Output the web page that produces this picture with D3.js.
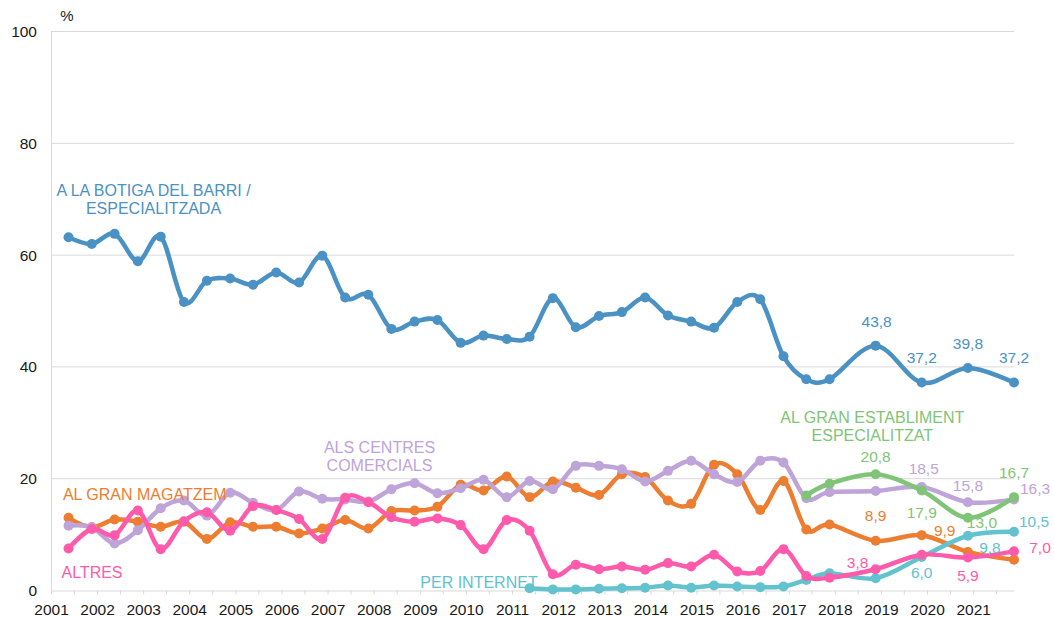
<!DOCTYPE html>
<html>
<head>
<meta charset="utf-8">
<script src="https://cdn.jsdelivr.net/npm/d3@7"></script>
<style>
  html, body { margin: 0; padding: 0; background: #ffffff; }
  svg { display: block; font-family: "Liberation Sans", Arial, sans-serif; }
</style>
</head>
<body>
<svg id="chart" width="1054" height="617"></svg>
<script>
// ---- DATA ----
const surveys = [
  "2001-05","2001-11","2002-05","2002-11","2003-05","2003-11","2004-05","2004-11",
  "2005-05","2005-11","2006-05","2006-11","2007-05","2007-11","2008-05","2008-11",
  "2009-05","2009-11","2010-05","2010-11","2011-05","2011-11","2012-05","2012-11",
  "2013-05","2013-11","2014-05","2014-11","2015-05","2015-11","2016-05","2016-11",
  "2017-05","2017-11","2018-11","2019-11","2020-11","2021-11"
];
const yearLabels = ["2001","2002","2003","2004","2005","2006","2007","2008","2009","2010","2011",
  "2012","2013","2014","2015","2016","2017","2018","2019","2020","2021"];
const yTicks = [0, 20, 40, 60, 80, 100];

const botigaBarri = [63.2,62.0,63.8,58.9,63.3,51.6,55.4,55.8,54.7,56.9,
  55.1,59.9,52.4,52.9,46.8,48.1,48.4,44.3,45.6,45.0,
  45.4,52.3,47.1,49.1,49.8,52.4,49.2,48.1,47.0,51.6,
  52.1,41.9,37.8,37.8,43.8,37.2,39.8,37.2];
const granMagatzem = [13.0,11.3,12.7,12.3,11.4,12.3,9.2,12.2,11.4,11.4,
  10.2,11.1,12.6,11.1,14.2,14.3,15.0,18.9,17.9,20.4,
  16.7,19.5,18.4,17.1,20.8,20.3,16.1,15.5,22.5,20.8,
  14.4,19.6,10.9,11.8,8.9,9.9,6.9,5.5];
const centresComercials = [11.6,11.3,8.4,10.8,14.7,16.1,13.4,17.5,15.7,14.4,
  17.7,16.4,16.3,15.9,18.1,19.2,17.4,18.3,19.8,16.7,
  19.6,18.1,22.3,22.3,21.7,19.5,21.4,23.2,20.8,19.4,
  23.2,22.9,16.5,17.6,17.8,18.5,15.8,16.3];
const perInternet = [null,null,null,null,null,null,null,null,null,null,
  null,null,null,null,null,null,null,null,null,null,
  0.4,0.2,0.2,0.3,0.4,0.5,0.9,0.5,0.9,0.7,
  0.6,0.7,1.9,3.1,2.2,6.0,9.8,10.5];
const altres = [7.5,11.0,9.9,14.3,7.4,12.4,14.0,10.7,15.1,14.4,
  12.8,9.2,16.6,15.8,13.1,12.3,12.9,11.7,7.4,12.6,
  10.7,2.9,4.6,3.8,4.3,3.7,4.9,4.3,6.4,3.4,
  3.5,7.4,2.6,2.3,3.8,6.4,5.9,7.0];
const granEstabliment = [null,null,null,null,null,null,null,null,null,null,
  null,null,null,null,null,null,null,null,null,null,
  null,null,null,null,null,null,null,null,null,null,
  null,null,17.0,19.1,20.8,17.9,13.0,16.7];

// ---- STYLE / LAYOUT ----
const colors = {
  botiga: "#4a91c4", magatzem: "#ed7d31", centres: "#bea4d8",
  internet: "#62c2cd", altres: "#ff5aab", establiment: "#7fc477"
};
const series = [
  { key: "botiga", values: botigaBarri,
    nameLines: ["A LA BOTIGA DEL BARRI /", "ESPECIALITZADA"], nameAt: [153.5, 196],
    labels: [[34,1,-24],[35,0,-25],[36,0,-24],[37,0,-25]] },
  { key: "magatzem", values: granMagatzem,
    nameLines: ["AL GRAN MAGATZEM"], nameAt: [144.7, 500],
    labels: [[34,0,-25],[35,23,-5]] },
  { key: "centres", values: centresComercials,
    nameLines: ["ALS CENTRES", "COMERCIALS"], nameAt: [379.5, 453],
    labels: [[35,2,-19],[36,0,-17],[37,21,-11]] },
  { key: "internet", values: perInternet,
    nameLines: ["PER INTERNET"], nameAt: [479, 587.5],
    labels: [[35,0,16],[36,22,12],[37,20,-10]] },
  { key: "altres", values: altres,
    nameLines: ["ALTRES"], nameAt: [92, 577.5],
    labels: [[34,-18,-7],[36,0,18],[37,26,-4]] },
  { key: "establiment", values: granEstabliment,
    nameLines: ["AL GRAN ESTABLIMENT", "ESPECIALITZAT"], nameAt: [872.3, 423],
    labels: [[34,0,-18],[35,0,22],[36,14,5],[37,0,-25]] }
];

const svg = d3.select("#chart");
const plotL = 51, plotR = 1014, plotT = 31.5, plotB = 590.5;
const parseMonth = d3.timeParse("%Y-%m-%d");
const dates = surveys.map(s => parseMonth(s + "-20"));

const x = d3.scaleTime()
  .domain([new Date(2001, 0, 1), dates[dates.length - 1]])
  .range([plotL, plotR]);
const y = d3.scaleLinear().domain([0, 100]).range([plotB, plotT]);

const gridColor = "#d9d9d9";

// gridlines
svg.append("g").selectAll("line").data(yTicks.filter(v => v > 0)).join("line")
  .attr("x1", plotL).attr("x2", plotR)
  .attr("y1", d => y(d)).attr("y2", d => y(d))
  .attr("stroke", gridColor).attr("stroke-width", 1);

// y axis
const yAxis = svg.append("g").attr("transform", `translate(${plotL},0)`)
  .call(d3.axisLeft(y).tickValues(yTicks).tickSize(0).tickPadding(14).tickFormat(d3.format("d")));
yAxis.select(".domain").attr("stroke", gridColor);
yAxis.selectAll("text").attr("font-size", "15.5px").attr("fill", "#1a1a1a")
  .attr("font-family", "Liberation Sans, Arial, sans-serif");

svg.append("text").attr("x", 67).attr("y", 21).attr("text-anchor", "middle")
  .attr("font-size", "15px").attr("fill", "#1a1a1a").text("%");

// x axis
const halfYears = d3.timeMonth.every(6).range(new Date(2001, 0, 1), dates[dates.length - 1]);
const xAxis = svg.append("g").attr("transform", `translate(0,${plotB})`)
  .call(d3.axisBottom(x).tickValues(halfYears).tickSize(4).tickPadding(9)
    .tickFormat(d => d.getMonth() === 0 ? yearLabels[d.getFullYear() - 2001] : ""));
xAxis.select(".domain").attr("stroke", gridColor).attr("d", `M${plotL},0.5H${plotR}`);
xAxis.selectAll(".tick line").attr("stroke", gridColor);
xAxis.selectAll("text").attr("font-size", "15.5px").attr("fill", "#1a1a1a")
  .attr("font-family", "Liberation Sans, Arial, sans-serif");

// lines
const line = d3.line()
  .defined(d => d.v != null)
  .x(d => x(d.date)).y(d => y(d.v))
  .curve(d3.curveCardinal.tension(0));

const fmt = v => v.toFixed(1).replace(".", ",");

series.forEach(s => {
  const pts = s.values.map((v, i) => ({ date: dates[i], v }));
  const g = svg.append("g");
  g.append("path").datum(pts.filter(p => p.v != null))
    .attr("d", line).attr("fill", "none")
    .attr("stroke", colors[s.key]).attr("stroke-width", 4.5)
    .attr("stroke-linejoin", "round").attr("stroke-linecap", "round");
  g.selectAll("circle").data(pts.filter(p => p.v != null)).join("circle")
    .attr("cx", d => x(d.date)).attr("cy", d => y(d.v)).attr("r", 5)
    .attr("fill", colors[s.key]);
});

// value labels and series names (on top)
series.forEach(s => {
  const g = svg.append("g").attr("fill", colors[s.key]).attr("text-anchor", "middle");
  s.labels.forEach(([i, dx, dy]) => {
    g.append("text")
      .attr("x", x(dates[i]) + dx).attr("y", y(s.values[i]) + dy)
      .attr("dy", "0.35em").attr("font-size", "15.5px")
      .text(fmt(s.values[i]));
  });
  s.nameLines.forEach((t, k) => {
    g.append("text").attr("x", s.nameAt[0]).attr("y", s.nameAt[1] + k * 18.3)
      .attr("font-size", "16px").text(t);
  });
});
</script>
</body>
</html>
